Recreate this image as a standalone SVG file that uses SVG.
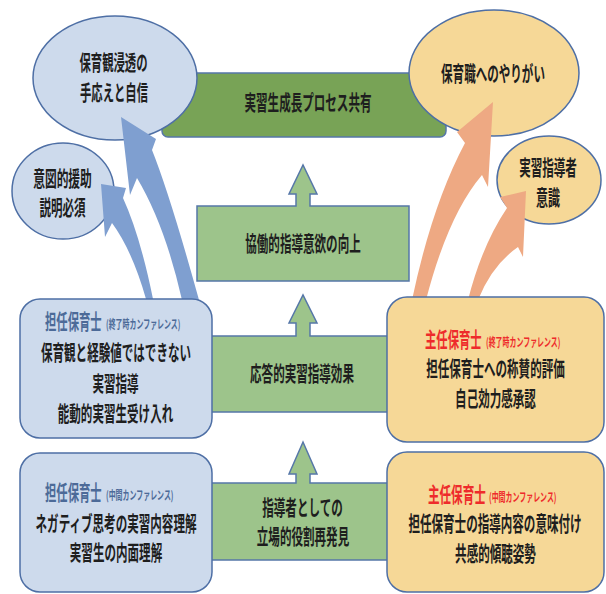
<svg xmlns="http://www.w3.org/2000/svg" width="606" height="594" viewBox="0 0 606 594">
<style>
text{font-family:"Noto Sans CJK JP","Noto Sans CJK SC",sans-serif;font-weight:bold;fill:#1e1e1e;font-size:21px;text-anchor:middle}
.l{text-anchor:start}
.s{font-size:12px;text-anchor:start}
.blu{fill:#4c6a98}
.red{fill:#ee2b2b}
.eb{fill:#cddaec;stroke:#4e6fa5;stroke-width:1.5}
.eo{fill:#f6d897;stroke:#4e6fa5;stroke-width:1.5}
.g{fill:#9dc48b;stroke:#5677a8;stroke-width:1.5}
.gd{fill:#78a356;stroke:#5677a8;stroke-width:1.5}
.ab{fill:#7f9fd0}
.ao{fill:#eea983}
</style>
<rect width="606" height="594" fill="#fff"/>
<g id="top-process">
<rect class="gd" x="162" y="73" width="284" height="64" rx="6"/>
<text transform="translate(308,110) scale(0.55,1)">実習生成長プロセス共有</text>
</g>
<g id="ellipse-hoikukan">
<ellipse class="eb" cx="115" cy="78" rx="82" ry="62"/>
<text transform="translate(113.5,70) scale(0.54,1)">保育観浸透の</text>
<text transform="translate(114,100) scale(0.54,1)">手応えと自信</text>
</g>
<g id="ellipse-ito">
<ellipse class="eb" cx="63" cy="191" rx="51" ry="48"/>
<text transform="translate(62.5,186) scale(0.56,1)">意図的援助</text>
<text transform="translate(62.5,215) scale(0.55,1)">説明必須</text>
</g>
<g id="ellipse-yarigai">
<ellipse class="eo" cx="494" cy="73" rx="85" ry="63"/>
<text transform="translate(493,81) scale(0.55,1)">保育職へのやりがい</text>
</g>
<g id="ellipse-shidousha">
<ellipse class="eo" cx="549" cy="180" rx="52" ry="44"/>
<text transform="translate(548,175) scale(0.55,1)">実習指導者</text>
<text transform="translate(548,205) scale(0.57,1)">意識</text>
</g>
<g id="arrow-kyoudou">
<path class="g" d="M197,206 H296 V194 H289 L303,165 L317,194 H310 V206 H409 V281 H197 Z"/>
<text transform="translate(303,251) scale(0.55,1)">協働的指導意欲の向上</text>
</g>
<g id="arrow-outou">
<path class="g" d="M205,336 H296 V323 H289 L303,295 L317,323 H310 V336 H395 V412 H205 Z"/>
<text transform="translate(302,381) scale(0.55,1)">応答的実習指導効果</text>
</g>
<g id="arrow-tachiba">
<path class="g" d="M205,483 H296 V474 H289 L303,442 L317,474 H310 V483 H395 V560 H205 Z"/>
<text transform="translate(302.5,515) scale(0.55,1)">指導者としての</text>
<text transform="translate(303,544) scale(0.55,1)">立場的役割再発見</text>
</g>
<g id="connectors">
<path class="ab" d="M121,117 L156,139 L152,150 Q170,195 199,300 L182,300 Q165,225 137,178 L130,195 Z"/>
<path class="ab" d="M101,184 L126,188 L123,198 Q140,235 153,299 L146,299 Q132,250 112,223 L105,237 Z"/>
<path class="ao" d="M493,102 L457,132 L465,143 Q432,205 412,300 L426,300 Q448,215 482,175 L488,187 Z"/>
<path class="ao" d="M526,191 L500,197 L507,208 Q482,245 468,300 L478,300 Q492,265 518,247 L523,257 Z"/>
</g>
<g id="box-tannin-end">
<rect class="eb" x="20" y="299" width="192" height="139" rx="20"/>
<text class="l blu" transform="translate(45,329) scale(0.54,1)">担任保育士</text>
<text class="s blu" transform="translate(106,329) scale(0.58,1)">(終了時カンファレンス)</text>
<text transform="translate(116,360) scale(0.55,1)">保育観と経験値ではできない</text>
<text transform="translate(115.5,391) scale(0.55,1)">実習指導</text>
<text transform="translate(115.5,421) scale(0.55,1)">能動的実習生受け入れ</text>
</g>
<g id="box-tannin-mid">
<rect class="eb" x="20" y="453" width="192" height="139" rx="20"/>
<text class="l blu" transform="translate(45,500) scale(0.54,1)">担任保育士</text>
<text class="s blu" transform="translate(106,500) scale(0.58,1)">(中間カンファレンス)</text>
<text transform="translate(116,531) scale(0.55,1)">ネガティブ思考の実習内容理解</text>
<text transform="translate(116,560) scale(0.55,1)">実習生の内面理解</text>
</g>
<g id="box-shunin-end">
<rect class="eo" x="387" y="297" width="217" height="145" rx="20"/>
<text class="l red" transform="translate(425,347) scale(0.54,1)">主任保育士</text>
<text class="s red" transform="translate(486,347) scale(0.58,1)">(終了時カンファレンス)</text>
<text transform="translate(495.5,376) scale(0.55,1)">担任保育士への称賛的評価</text>
<text transform="translate(495.5,406) scale(0.55,1)">自己効力感承認</text>
</g>
<g id="box-shunin-mid">
<rect class="eo" x="387" y="452" width="217" height="140" rx="20"/>
<text class="l red" transform="translate(428,502) scale(0.55,1)">主任保育士</text>
<text class="s red" transform="translate(489,502) scale(0.58,1)">(中間カンファレンス)</text>
<text transform="translate(495,531) scale(0.55,1)">担任保育士の指導内容の意味付け</text>
<text transform="translate(495.5,561) scale(0.55,1)">共感的傾聴姿勢</text>
</g>
</svg>
